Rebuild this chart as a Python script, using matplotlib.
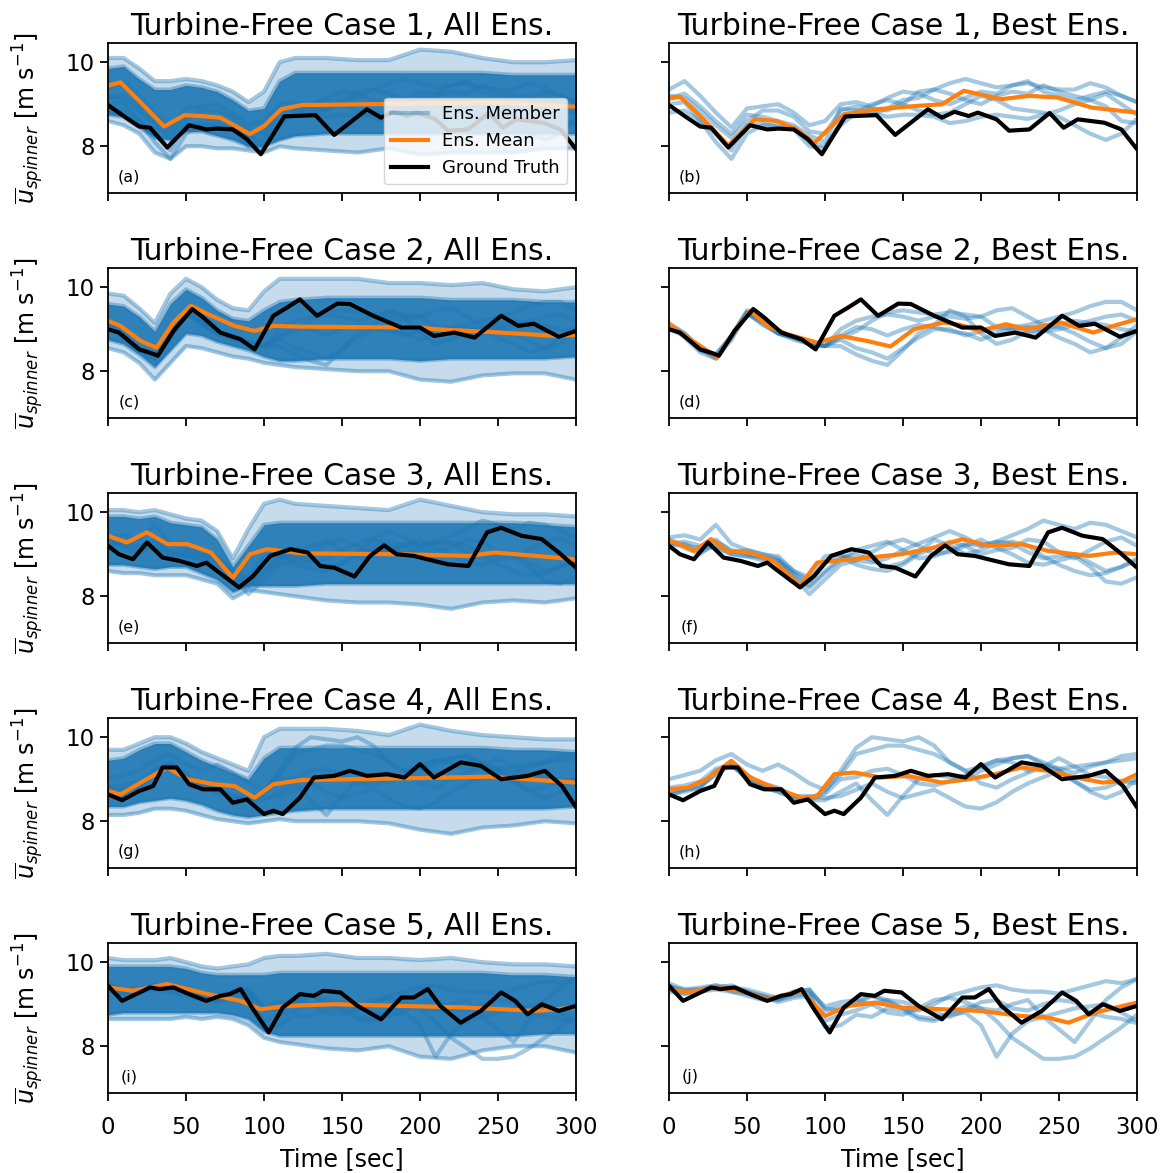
import matplotlib.pyplot as plt
from matplotlib.lines import Line2D

# ground truth, read at the turning points of each curve (sec, m/s)
truth_t = [
    [0, 10, 20, 27, 38, 52, 63, 70, 80, 89, 98, 113, 133, 145, 166, 175, 183, 192, 198, 210, 218, 231, 244, 253, 262, 279, 290, 300],
    [0, 7, 20, 27, 32, 42, 54, 61, 72, 85, 94, 106, 115, 123, 134, 147, 155, 170, 188, 200, 209, 222, 235, 252, 263, 273, 289, 300],
    [0, 7, 16, 25, 35, 46, 57, 63, 70, 84, 93, 104, 117, 128, 136, 145, 158, 168, 177, 185, 196, 209, 218, 231, 243, 252, 265, 278, 289, 300],
    [0, 9, 20, 29, 35, 44, 52, 61, 72, 80, 89, 100, 106, 112, 123, 132, 145, 155, 166, 179, 190, 200, 209, 226, 239, 252, 269, 280, 291, 300],
    [0, 9, 18, 27, 33, 42, 52, 63, 72, 78, 85, 93, 103, 112, 123, 132, 138, 149, 160, 175, 188, 196, 205, 213, 226, 239, 252, 261, 269, 278, 289, 300],
]
truth_v = [
    [8.98, 8.72, 8.47, 8.44, 7.97, 8.5, 8.4, 8.42, 8.4, 8.17, 7.81, 8.71, 8.74, 8.27, 8.88, 8.68, 8.82, 8.72, 8.8, 8.64, 8.37, 8.4, 8.79, 8.44, 8.64, 8.56, 8.4, 7.93],
    [9.0, 8.92, 8.52, 8.44, 8.37, 8.96, 9.48, 9.28, 8.92, 8.76, 8.52, 9.32, 9.52, 9.71, 9.32, 9.61, 9.6, 9.32, 9.04, 9.04, 8.84, 8.92, 8.8, 9.32, 9.08, 9.13, 8.82, 8.96],
    [9.2, 9.0, 8.88, 9.28, 8.92, 8.84, 8.72, 8.8, 8.6, 8.21, 8.48, 8.96, 9.12, 9.04, 8.72, 8.68, 8.47, 8.96, 9.21, 9.0, 8.96, 8.84, 8.76, 8.72, 9.52, 9.63, 9.44, 9.36, 9.04, 8.68],
    [8.64, 8.5, 8.72, 8.84, 9.28, 9.28, 8.88, 8.76, 8.76, 8.44, 8.52, 8.17, 8.25, 8.17, 8.56, 9.04, 9.08, 9.2, 9.08, 9.12, 9.04, 9.36, 9.04, 9.4, 9.32, 9.0, 9.08, 9.2, 8.84, 8.33],
    [9.44, 9.08, 9.24, 9.4, 9.36, 9.4, 9.24, 9.08, 9.2, 9.24, 9.36, 8.88, 8.33, 8.92, 9.24, 9.2, 9.32, 9.28, 8.96, 8.64, 9.16, 9.16, 9.36, 8.96, 8.56, 8.84, 9.28, 9.08, 8.76, 9.0, 8.84, 8.96],
]

# mean of all ensemble members
mean_all_t = [
    [0, 8, 21, 36, 49, 59, 72, 91, 100, 111, 124, 167, 250, 300],
    [0, 8, 21, 31, 42, 53, 64, 81, 94, 106, 124, 200, 210, 252, 287, 300],
    [0, 12, 25, 38, 51, 66, 80, 91, 102, 124, 188, 231, 248, 274, 300],
    [0, 8, 21, 38, 51, 68, 81, 94, 106, 124, 188, 244, 300],
    [0, 16, 38, 64, 85, 98, 115, 145, 188, 231, 274, 300],
]
mean_all_v = [
    [9.44, 9.52, 9.04, 8.47, 8.74, 8.72, 8.68, 8.29, 8.48, 8.88, 8.98, 9.0, 9.04, 8.94],
    [9.2, 9.08, 8.72, 8.56, 9.16, 9.56, 9.36, 9.08, 8.96, 9.08, 9.06, 9.04, 9.0, 8.92, 8.84, 8.86],
    [9.44, 9.28, 9.52, 9.24, 9.24, 9.04, 8.44, 9.0, 9.12, 9.02, 9.0, 8.96, 9.04, 8.96, 8.88],
    [8.72, 8.64, 8.92, 9.28, 9.0, 8.88, 8.84, 8.56, 8.88, 8.98, 9.02, 9.06, 8.92],
    [9.4, 9.32, 9.48, 9.24, 9.08, 8.88, 8.96, 9.0, 8.96, 8.92, 8.84, 8.92],
]

# mean of the best members
mean_best_t = [
    [0, 7, 20, 38, 55, 69, 82, 93, 112, 133, 159, 175, 189, 213, 231, 249, 271, 300],
    [0, 12, 31, 40, 52, 63, 76, 95, 110, 127, 142, 157, 176, 187, 199, 216, 229, 251, 272, 285, 300],
    [0, 7, 16, 27, 37, 52, 67, 84, 95, 106, 128, 149, 170, 188, 205, 226, 243, 269, 286, 300],
    [0, 12, 24, 40, 52, 67, 85, 95, 106, 119, 136, 153, 175, 192, 209, 226, 243, 261, 278, 291, 300],
    [0, 12, 29, 46, 63, 85, 100, 115, 132, 149, 175, 200, 226, 243, 256, 273, 300],
]
mean_best_v = [
    [9.13, 9.18, 8.72, 8.02, 8.64, 8.6, 8.4, 8.07, 8.76, 8.88, 8.96, 9.0, 9.32, 9.12, 9.2, 9.16, 8.92, 8.8],
    [9.12, 8.8, 8.33, 8.84, 9.44, 9.08, 8.88, 8.68, 8.84, 8.72, 8.59, 9.0, 9.16, 9.1, 8.96, 9.12, 9.0, 9.16, 8.92, 9.08, 9.24],
    [9.32, 9.24, 9.08, 9.36, 9.08, 9.04, 8.84, 8.25, 8.8, 8.84, 8.92, 9.0, 9.16, 9.36, 9.2, 9.24, 9.08, 8.96, 9.04, 9.0],
    [8.76, 8.8, 9.0, 9.44, 9.04, 8.8, 8.56, 8.6, 9.12, 9.16, 9.04, 9.08, 8.92, 9.0, 9.12, 9.28, 9.2, 9.04, 8.92, 8.96, 9.12],
    [9.36, 9.28, 9.4, 9.32, 9.12, 9.32, 8.72, 8.96, 9.04, 8.92, 8.88, 8.84, 8.72, 8.68, 8.56, 8.8, 9.04],
]

# best ensemble members, every 10 s
member_t = list(range(0, 301, 10))
best_members = [
    [
        [9.35, 9.55, 9.2, 8.8, 8.45, 8.9, 8.95, 9.0, 8.8, 8.5, 8.6, 9.0, 9.05, 8.95, 9.15, 9.3, 9.25, 9.1, 9.0, 9.15, 9.3, 9.25, 9.45, 9.5, 9.4, 9.35, 9.35, 9.5, 9.4, 9.2, 9.05],
        [9.2, 9.15, 8.85, 8.5, 8.2, 8.6, 8.85, 8.85, 8.7, 8.35, 8.3, 8.85, 8.95, 8.9, 8.85, 9.0, 9.3, 9.35, 9.5, 9.6, 9.5, 9.4, 9.45, 9.55, 9.3, 9.2, 9.1, 9.2, 9.3, 9.2, 9.05],
        [9.0, 9.05, 8.6, 8.1, 7.7, 8.3, 8.5, 8.5, 8.4, 8.0, 7.95, 8.6, 8.85, 8.8, 8.7, 8.75, 8.75, 8.7, 8.55, 8.6, 8.7, 8.75, 8.7, 8.65, 8.75, 8.85, 9.0, 9.1, 8.95, 8.6, 8.55],
        [8.8, 8.85, 8.6, 8.3, 7.9, 8.5, 8.55, 8.45, 8.45, 8.1, 8.0, 8.5, 8.8, 9.0, 9.1, 9.0, 8.85, 8.75, 8.8, 9.0, 9.2, 9.1, 8.9, 8.85, 8.8, 8.7, 8.5, 8.3, 8.15, 8.3, 8.65],
        [9.15, 9.25, 8.95, 8.6, 8.3, 8.75, 8.7, 8.6, 8.5, 8.25, 8.1, 8.9, 8.85, 8.75, 8.9, 9.1, 9.15, 9.35, 9.25, 9.1, 9.0, 9.2, 9.3, 9.25, 9.45, 9.3, 9.2, 9.1, 9.25, 9.0, 8.75],
    ],
    [
        [9.15, 8.9, 8.55, 8.3, 8.85, 9.45, 9.2, 8.9, 8.8, 8.65, 8.6, 8.6, 8.4, 8.25, 8.15, 8.5, 8.9, 9.1, 9.45, 9.3, 8.9, 8.65, 8.75, 8.95, 9.0, 9.1, 9.2, 9.15, 9.1, 9.0, 8.95],
        [9.05, 8.85, 8.5, 8.4, 8.8, 9.4, 9.15, 8.9, 8.75, 8.65, 8.6, 9.0, 9.2, 9.3, 9.35, 9.3, 9.2, 9.3, 9.3, 9.25, 9.3, 9.05, 9.0, 8.9, 8.95, 9.0, 9.1, 9.2, 9.3, 9.35, 9.2],
        [9.1, 8.8, 8.45, 8.3, 8.75, 9.4, 9.2, 8.95, 8.8, 8.7, 8.6, 8.8, 8.95, 9.2, 9.4, 9.45, 9.4, 9.35, 9.4, 9.35, 9.3, 9.45, 9.5, 9.3, 9.1, 9.05, 8.9, 8.7, 8.55, 8.65, 8.95],
        [9.0, 8.85, 8.5, 8.35, 8.8, 9.35, 9.15, 8.9, 8.8, 8.65, 8.6, 8.75, 8.55, 8.45, 8.3, 8.55, 8.8, 9.0, 9.0, 8.85, 8.95, 9.0, 9.05, 9.1, 9.2, 9.3, 9.4, 9.55, 9.65, 9.65, 9.45],
        [9.1, 8.9, 8.55, 8.4, 8.85, 9.4, 9.1, 8.9, 8.8, 8.7, 8.6, 8.85, 9.05, 9.0, 8.85, 9.0, 9.1, 9.05, 8.95, 8.9, 8.75, 8.9, 9.0, 9.05, 9.0, 8.8, 8.65, 8.45, 8.55, 8.8, 9.1],
    ],
    [
        [9.4, 9.45, 9.35, 9.7, 9.25, 9.1, 9.0, 8.95, 8.6, 8.45, 8.95, 9.0, 8.85, 8.8, 8.9, 9.1, 9.25, 9.4, 9.55, 9.4, 9.2, 9.3, 9.45, 9.6, 9.8, 9.7, 9.6, 9.75, 9.7, 9.55, 9.4],
        [9.3, 9.15, 9.0, 9.3, 9.1, 9.0, 8.9, 8.85, 8.5, 8.2, 8.55, 8.85, 9.1, 9.2, 9.3, 9.1, 8.9, 8.95, 9.1, 9.25, 9.2, 9.3, 9.25, 9.05, 8.9, 8.95, 9.0, 8.8, 8.6, 8.7, 8.9],
        [9.2, 9.25, 9.05, 9.2, 9.0, 8.95, 8.85, 8.8, 8.45, 8.05, 8.4, 8.75, 8.85, 9.05, 9.25, 9.35, 9.2, 9.0, 9.05, 9.2, 9.35, 9.15, 9.0, 8.8, 8.75, 8.85, 8.95, 8.7, 8.35, 8.3, 8.45],
        [9.35, 9.2, 9.15, 9.35, 9.05, 9.1, 9.0, 8.9, 8.6, 8.35, 8.8, 8.95, 8.75, 8.65, 8.6, 8.75, 9.0, 9.15, 9.3, 9.2, 9.0, 9.1, 9.15, 9.35, 9.3, 9.05, 8.9, 9.1, 9.3, 9.4, 9.2],
        [9.25, 9.3, 9.2, 9.15, 9.0, 8.95, 8.95, 8.85, 8.55, 8.25, 8.6, 8.9, 9.0, 8.85, 8.7, 8.8, 9.05, 9.35, 9.2, 9.0, 9.1, 9.25, 9.3, 9.2, 8.95, 8.75, 8.6, 8.5, 8.55, 8.7, 8.85],
    ],
    [
        [9.0, 9.1, 9.2, 9.45, 9.6, 9.35, 9.2, 9.35, 9.15, 8.9, 8.75, 9.1, 9.6, 9.7, 9.8, 9.8, 9.7, 9.6, 9.4, 9.2, 9.3, 9.45, 9.4, 9.2, 9.3, 9.5, 9.3, 9.1, 9.05, 8.95, 8.9],
        [8.7, 8.75, 8.8, 9.2, 9.35, 9.05, 8.8, 8.7, 8.55, 8.55, 8.7, 9.2, 9.75, 10.0, 9.95, 9.9, 10.0, 9.8, 9.4, 9.2, 8.9, 8.8, 9.0, 9.15, 9.3, 9.25, 9.15, 9.3, 9.4, 9.55, 9.6],
        [8.6, 8.75, 8.85, 9.1, 9.35, 9.0, 8.85, 8.7, 8.55, 8.5, 8.5, 8.7, 8.9, 8.5, 8.15, 8.6, 9.0, 9.1, 9.05, 9.0, 9.2, 9.35, 9.5, 9.55, 9.35, 9.2, 8.95, 8.75, 8.8, 8.95, 9.0],
        [8.65, 8.7, 8.8, 9.15, 9.4, 9.1, 8.9, 8.8, 8.6, 8.6, 8.55, 8.6, 8.75, 8.9, 8.7, 8.55, 8.65, 8.75, 8.55, 8.35, 8.3, 8.45, 8.7, 8.9, 9.05, 9.2, 8.95, 8.7, 8.55, 8.7, 9.0],
        [8.8, 8.85, 8.95, 9.25, 9.35, 9.0, 8.85, 8.75, 8.6, 8.5, 8.65, 9.0, 9.05, 9.2, 9.25, 9.1, 8.9, 8.85, 8.95, 9.1, 9.3, 9.45, 9.5, 9.55, 9.4, 9.25, 9.3, 9.35, 9.4, 9.45, 9.5],
    ],
    [
        [9.5, 9.35, 9.4, 9.45, 9.4, 9.35, 9.25, 9.15, 9.3, 9.35, 8.9, 8.85, 9.1, 9.2, 9.05, 8.9, 8.85, 9.0, 9.2, 9.3, 9.4, 9.45, 9.35, 9.3, 9.3, 9.25, 9.35, 9.45, 9.55, 9.5, 9.6],
        [9.35, 9.25, 9.3, 9.4, 9.35, 9.3, 9.2, 9.1, 9.2, 9.25, 8.45, 8.5, 8.75, 8.7, 8.9, 8.85, 8.65, 8.6, 8.75, 8.8, 8.5, 7.75, 8.3, 8.6, 8.7, 8.8, 8.9, 8.95, 9.0, 8.8, 8.6],
        [9.45, 9.3, 9.35, 9.4, 9.45, 9.3, 9.15, 9.15, 9.25, 9.3, 8.95, 9.05, 9.1, 9.0, 8.8, 8.75, 8.9, 9.1, 9.15, 9.05, 8.9, 8.85, 9.0, 9.1, 8.7, 8.4, 8.1, 8.6, 9.1, 9.4, 9.6],
        [9.3, 9.25, 9.3, 9.35, 9.3, 9.25, 9.2, 9.05, 9.15, 9.2, 8.6, 8.75, 8.85, 9.0, 9.1, 8.9, 8.7, 8.65, 8.8, 8.95, 8.9, 8.6, 8.2, 7.95, 7.7, 7.7, 7.75, 7.95, 8.2, 8.45, 8.75],
        [9.4, 9.35, 9.35, 9.45, 9.3, 9.2, 9.1, 9.1, 9.3, 9.35, 8.85, 8.95, 9.0, 9.2, 9.1, 9.05, 8.95, 8.8, 8.7, 8.85, 9.05, 9.1, 8.9, 8.85, 9.0, 9.1, 9.05, 8.8, 8.7, 8.65, 8.55],
    ],
]

# spread of the full ensemble: dense core and outermost members
band_t = [0, 10, 20, 30, 40, 50, 60, 70, 80, 90, 100, 110, 120, 140, 160, 180, 200, 220, 240, 260, 280, 300]
core_hi = [
    [9.85, 9.9, 9.6, 9.35, 9.35, 9.45, 9.4, 9.3, 9.1, 8.85, 8.9, 9.55, 9.75, 9.75, 9.75, 9.75, 9.75, 9.75, 9.75, 9.7, 9.7, 9.7],
    [9.6, 9.55, 9.3, 8.95, 9.6, 9.95, 9.75, 9.45, 9.25, 9.2, 9.45, 9.65, 9.7, 9.75, 9.75, 9.75, 9.75, 9.7, 9.7, 9.7, 9.65, 9.65],
    [9.9, 9.9, 9.85, 9.9, 9.75, 9.7, 9.65, 9.35, 8.7, 9.2, 9.7, 9.75, 9.75, 9.75, 9.75, 9.75, 9.75, 9.75, 9.75, 9.75, 9.7, 9.65],
    [9.45, 9.5, 9.7, 9.85, 9.85, 9.65, 9.45, 9.3, 9.15, 9.0, 9.5, 9.75, 9.75, 9.75, 9.75, 9.75, 9.75, 9.75, 9.75, 9.7, 9.7, 9.65],
    [9.9, 9.9, 9.9, 9.9, 9.9, 9.85, 9.75, 9.7, 9.7, 9.7, 9.7, 9.75, 9.75, 9.75, 9.75, 9.75, 9.75, 9.75, 9.75, 9.7, 9.7, 9.65],
]
core_lo = [
    [8.75, 8.7, 8.45, 8.2, 8.15, 8.35, 8.35, 8.25, 8.15, 8.0, 8.0, 8.15, 8.25, 8.3, 8.3, 8.3, 8.3, 8.3, 8.3, 8.3, 8.3, 8.3],
    [8.75, 8.65, 8.4, 8.1, 8.5, 8.9, 8.85, 8.7, 8.6, 8.5, 8.35, 8.25, 8.25, 8.3, 8.3, 8.3, 8.25, 8.3, 8.3, 8.3, 8.3, 8.35],
    [8.75, 8.75, 8.7, 8.65, 8.7, 8.7, 8.55, 8.4, 8.1, 8.25, 8.25, 8.25, 8.25, 8.3, 8.3, 8.3, 8.3, 8.3, 8.3, 8.3, 8.3, 8.3],
    [8.35, 8.35, 8.45, 8.5, 8.55, 8.5, 8.4, 8.25, 8.15, 8.1, 8.15, 8.2, 8.25, 8.3, 8.3, 8.3, 8.3, 8.3, 8.3, 8.3, 8.3, 8.35],
    [8.75, 8.8, 8.8, 8.8, 8.8, 8.8, 8.8, 8.8, 8.75, 8.65, 8.35, 8.25, 8.25, 8.25, 8.25, 8.25, 8.25, 8.25, 8.25, 8.25, 8.3, 8.3],
]
outer_hi = [
    [10.1, 10.1, 9.85, 9.55, 9.55, 9.6, 9.55, 9.45, 9.3, 9.05, 9.3, 10.0, 10.1, 10.1, 10.05, 10.05, 10.3, 10.25, 10.1, 10.0, 10.0, 10.05],
    [9.85, 9.8, 9.5, 9.15, 9.85, 10.2, 10.0, 9.7, 9.5, 9.45, 9.9, 10.2, 10.2, 10.2, 10.2, 10.1, 10.1, 10.05, 10.1, 9.95, 9.9, 10.0],
    [10.05, 10.05, 10.0, 10.05, 9.95, 9.85, 9.8, 9.55, 8.9, 9.6, 10.2, 10.3, 10.2, 10.15, 10.1, 10.05, 10.3, 10.15, 10.0, 9.95, 9.95, 9.9],
    [9.7, 9.7, 9.85, 10.0, 10.0, 9.85, 9.65, 9.5, 9.35, 9.2, 10.0, 10.2, 10.2, 10.2, 10.15, 10.05, 10.3, 10.15, 10.05, 10.0, 9.95, 9.95],
    [10.1, 10.05, 10.05, 10.05, 10.1, 10.0, 9.9, 9.85, 9.9, 9.95, 10.1, 10.15, 10.15, 10.2, 10.1, 10.1, 10.05, 10.1, 10.0, 9.95, 9.95, 9.9],
]
outer_lo = [
    [8.6, 8.5, 8.3, 7.85, 7.7, 8.0, 8.0, 7.95, 7.95, 7.9, 7.85, 8.0, 7.95, 7.9, 7.85, 7.95, 7.8, 7.85, 7.85, 7.85, 7.95, 7.95],
    [8.55, 8.45, 8.2, 7.8, 8.2, 8.6, 8.55, 8.45, 8.35, 8.3, 8.2, 8.15, 8.1, 8.05, 8.0, 8.0, 7.8, 7.75, 7.9, 7.95, 7.95, 7.8],
    [8.6, 8.55, 8.55, 8.5, 8.5, 8.5, 8.4, 8.3, 7.95, 8.15, 8.1, 8.05, 8.0, 7.9, 7.85, 7.85, 7.8, 7.7, 7.85, 7.9, 7.85, 7.95],
    [8.15, 8.15, 8.2, 8.3, 8.3, 8.25, 8.15, 8.05, 8.0, 7.95, 8.0, 8.05, 8.0, 8.0, 8.0, 7.95, 7.8, 7.7, 7.85, 7.9, 8.0, 7.95],
    [8.65, 8.65, 8.65, 8.65, 8.65, 8.7, 8.65, 8.7, 8.65, 8.5, 8.2, 8.1, 8.05, 7.95, 7.9, 8.0, 7.75, 7.7, 7.9, 8.0, 8.0, 7.85],
]

labels = ['(a)', '(b)', '(c)', '(d)', '(e)', '(f)', '(g)', '(h)', '(i)', '(j)']

blue = '#1f77b4'
orange = '#ff7f0e'
lkw = dict(lw=3, solid_joinstyle='round', solid_capstyle='round')

fig = plt.figure(figsize=(11.66, 11.73), dpi=100)
W, H = 1166.0, 1173.0

for i in range(5):
    top = 43.3 + 225 * i
    y0 = 1 - (top + 150) / H
    axl = fig.add_axes([108 / W, y0, 468 / W, 150 / H])
    axr = fig.add_axes([669 / W, y0, 468 / W, 150 / H])

    # all ensemble members (left)
    axl.fill_between(band_t, outer_lo[i], outer_hi[i], color=blue, alpha=0.25, lw=0)
    axl.fill_between(band_t, core_lo[i], core_hi[i], color=blue, alpha=0.9, lw=0)
    for edge in (outer_lo[i], outer_hi[i], core_lo[i], core_hi[i]):
        axl.plot(band_t, edge, color=blue, alpha=0.4, **lkw)
    for m in best_members[i]:
        axl.plot(member_t, m, color=blue, alpha=0.4, **lkw)
    axl.plot(mean_all_t[i], mean_all_v[i], color=orange, **lkw)
    axl.plot(truth_t[i], truth_v[i], color='k', **lkw)

    # best members (right)
    for m in best_members[i]:
        axr.plot(member_t, m, color=blue, alpha=0.4, **lkw)
    axr.plot(mean_best_t[i], mean_best_v[i], color=orange, **lkw)
    axr.plot(truth_t[i], truth_v[i], color='k', **lkw)

    axl.set_title('Turbine-Free Case %d, All Ens.' % (i + 1), fontsize=21.5)
    axr.set_title('Turbine-Free Case %d, Best Ens.' % (i + 1), fontsize=21.5)
    axl.set_ylabel(r'$\overline{u}_{spinner}$ [m s$^{-1}$]', fontsize=17, labelpad=14)

    for ax, lab in ((axl, labels[2 * i]), (axr, labels[2 * i + 1])):
        ax.set_xlim(0, 300)
        ax.set_ylim(6.88, 10.45)
        ax.set_yticks([8, 10])
        ax.set_xticks([0, 50, 100, 150, 200, 250, 300])
        ax.tick_params(labelsize=16.5, length=6, width=1.3)
        ax.tick_params(axis='x', pad=10)
        ax.text(0.045, 0.11, lab, transform=ax.transAxes, fontsize=11.5,
                ha='center', va='center')
        for s in ax.spines.values():
            s.set_linewidth(1.3)
        if i < 4:
            ax.set_xticklabels([])
        else:
            ax.set_xlabel('Time [sec]', fontsize=17, labelpad=6)
    axr.set_yticklabels([])

    if i == 0:
        handles = [Line2D([], [], color=blue, alpha=0.4, lw=3),
                   Line2D([], [], color=orange, lw=3),
                   Line2D([], [], color='k', lw=3)]
        axl.legend(handles, ['Ens. Member', 'Ens. Mean', 'Ground Truth'],
                   loc='lower right', fontsize=13)

fig.savefig('out.png', dpi=100)
